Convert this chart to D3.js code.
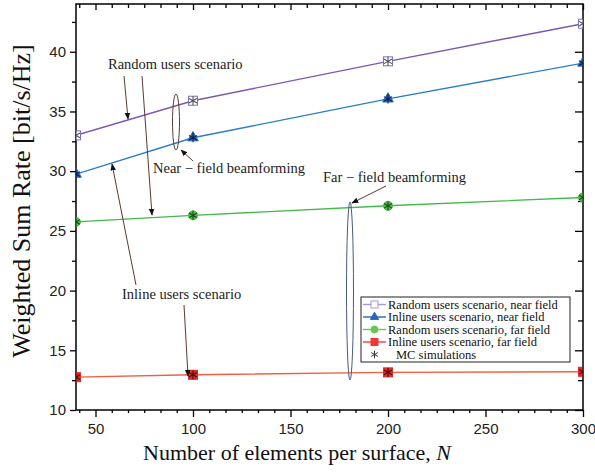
<!DOCTYPE html>
<html>
<head>
<meta charset="utf-8">
<script src="https://cdn.jsdelivr.net/npm/d3@7"></script>
<style>
  body { margin: 0; background: #fff; }
  svg { display: block; }
</style>
</head>
<body>
<svg width="595" height="472"></svg>
<script>
const elements = [40, 100, 200, 300];
const randomNear = [33.0, 35.9, 39.2, 42.35];
const inlineNear = [29.75, 32.8, 36.05, 39.05];
const randomFar = [25.75, 26.3, 27.1, 27.8];
const inlineFar = [12.75, 12.95, 13.15, 13.2];

const xTicks = [50, 100, 150, 200, 250, 300];
const yTicks = [10, 15, 20, 25, 30, 35, 40];

const series = [
    {name: "Random users scenario, near field", vals: randomNear, line: "#7d55b4", legendLine: "#a898d8", marker: "openSquare", fill: "#ffffff", stroke: "#8070c0", star: "#555"},
    {name: "Inline users scenario, near field", vals: inlineNear, line: "#2c7ccc", legendLine: "#2a64b8", marker: "triangle", fill: "#2a64b8", stroke: "#2a64b8", star: "#0b1f50"},
    {name: "Random users scenario, far field", vals: randomFar, line: "#44b84c", legendLine: "#66c855", marker: "circle", fill: "#4cbf44", stroke: "#4cbf44", star: "#1a4a1a"},
    {name: "Inline users scenario, far field", vals: inlineFar, line: "#f06040", legendLine: "#f03a3a", marker: "square", fill: "#e82828", stroke: "#e82828", star: "#401010"}
];

const svg = d3.select("svg");
const margin = {top: 4, right: 12, bottom: 62, left: 76};
const width = 595, height = 472;
const innerWidth = width - margin.left - margin.right;
const innerHeight = height - margin.top - margin.bottom;

const scaleX = d3.scaleLinear().domain([40, 300]).range([0, innerWidth]);
const scaleY = d3.scaleLinear().domain([10, 44]).range([innerHeight, 0]);

const g = svg.append("g").attr("transform", `translate(${margin.left}, ${margin.top})`);

const minorX = d3.range(0, 301, 50 / 6).filter(v => v >= 40 && v <= 300 && Math.abs(v % 50) > 0.1 && Math.abs(v % 50 - 50) > 0.1);
const minorY = d3.range(12.5, 44, 5);

// bottom axis
const axBottom = g.append("g").attr("transform", `translate(0, ${innerHeight})`);
axBottom.call(d3.axisBottom(scaleX).tickValues(xTicks).tickSize(7).tickSizeOuter(0).tickPadding(6));
axBottom.append("g").call(d3.axisBottom(scaleX).tickValues(minorX).tickSize(3).tickFormat(""));

// top axis
const axTop = g.append("g");
axTop.call(d3.axisBottom(scaleX).tickValues(xTicks).tickSize(6).tickFormat("").tickSizeOuter(0));
axTop.append("g").call(d3.axisBottom(scaleX).tickValues(minorX).tickSize(4).tickFormat(""));

// left axis
const axLeft = g.append("g");
axLeft.call(d3.axisLeft(scaleY).tickValues(yTicks).tickSize(6).tickSizeOuter(0).tickPadding(4));
axLeft.append("g").call(d3.axisLeft(scaleY).tickValues(minorY).tickSize(4).tickFormat(""));

// right axis
const axRight = g.append("g").attr("transform", `translate(${innerWidth}, 0)`);
axRight.call(d3.axisLeft(scaleY).tickValues(yTicks).tickSize(8).tickFormat("").tickSizeOuter(0));
axRight.append("g").call(d3.axisLeft(scaleY).tickValues(minorY).tickSize(5).tickFormat(""));

g.selectAll(".domain").remove();
g.selectAll(".tick text").filter(function() { return this.textContent === ""; }).remove();
g.selectAll(".tick line").attr("stroke", "#000").attr("stroke-width", 1.3);
g.selectAll(".tick text").style("font-family", "Liberation Sans, Arial, sans-serif").style("font-size", "15px").attr("fill", "#222");

g.append("rect").attr("width", innerWidth).attr("height", innerHeight)
    .attr("fill", "none").attr("stroke", "#000").attr("stroke-width", 1.5);

// lines and markers
const starPath = d3.symbol().type(d3.symbolAsterisk).size(60);
function drawMarker(sel, type, size, fill, stroke) {
    if (type === "openSquare" || type === "square") {
        sel.append("rect").attr("x", -size / 2).attr("y", -size / 2).attr("width", size).attr("height", size)
            .attr("fill", fill).attr("stroke", stroke).attr("stroke-width", 1);
    } else if (type === "triangle") {
        sel.append("path").attr("d", d3.symbol().type(d3.symbolTriangle).size(size * size * 0.6)())
            .attr("fill", fill).attr("stroke", stroke);
    } else {
        sel.append("circle").attr("r", size / 2).attr("fill", fill).attr("stroke", stroke);
    }
}

svg.append("clipPath").attr("id", "plotclip").append("rect")
    .attr("width", innerWidth).attr("height", innerHeight);
const plot = g.append("g").attr("clip-path", "url(#plotclip)");

series.forEach(s => {
    const line = d3.line().x((d, i) => scaleX(elements[i])).y(d => scaleY(d));
    plot.append("path").datum(s.vals).attr("fill", "none").attr("stroke", s.line)
        .attr("stroke-width", 1.4).attr("d", line);
});
series.forEach(s => {
    s.vals.forEach((v, i) => {
        const m = plot.append("g").attr("transform", `translate(${scaleX(elements[i])}, ${scaleY(v)})`);
        drawMarker(m, s.marker, 9, s.fill, s.stroke);
        m.append("path").attr("d", starPath()).attr("fill", "none").attr("stroke", s.star).attr("stroke-width", 1.1);
    });
});

// annotations
const serif = "Liberation Serif, Times New Roman, serif";
const ann = svg.append("g");
const defs = svg.append("defs");
defs.append("marker").attr("id", "arrow").attr("viewBox", "0 0 10 10").attr("refX", 9).attr("refY", 5)
    .attr("markerWidth", 7).attr("markerHeight", 7).attr("orient", "auto-start-reverse")
    .append("path").attr("d", "M0,1 L10,5 L0,9 z").attr("fill", "#111");

function arrow(x1, y1, x2, y2) {
    ann.append("line").attr("x1", x1).attr("y1", y1).attr("x2", x2).attr("y2", y2)
        .attr("stroke", "#5a3a30").attr("stroke-width", 1).attr("marker-end", "url(#arrow)");
}
function label(x, y, text, anchor) {
    ann.append("text").attr("x", x).attr("y", y).attr("text-anchor", anchor || "start")
        .style("font-family", serif).style("font-size", "14.5px").attr("fill", "#222").text(text);
}

label(108, 69, "Random users scenario");
arrow(124, 76, 128, 119);
arrow(142, 76, 152, 215);

ann.append("ellipse").attr("cx", 176).attr("cy", 122).attr("rx", 3.5).attr("ry", 28)
    .attr("fill", "none").attr("stroke", "#5a3a30").attr("stroke-width", 1);
label(153, 173, "Near \u2212 field beamforming");
arrow(193, 161, 181, 150);

ann.append("ellipse").attr("cx", 350).attr("cy", 291).attr("rx", 3.5).attr("ry", 89)
    .attr("fill", "none").attr("stroke", "#4a5a78").attr("stroke-width", 1);
label(323, 182, "Far \u2212 field beamforming");
arrow(386, 186, 352, 203);

label(122, 299, "Inline users scenario");
arrow(184, 305, 188, 376);
arrow(136, 285, 112, 164);

// legend
const legend = svg.append("g").attr("transform", "translate(361, 297)");
legend.append("rect").attr("width", 209).attr("height", 65).attr("fill", "#fff")
    .attr("stroke", "#222").attr("stroke-width", 1);
series.forEach((s, i) => {
    const row = legend.append("g").attr("transform", `translate(0, ${7.5 + i * 12.5})`);
    row.append("line").attr("x1", 2).attr("x2", 25).attr("stroke", s.legendLine).attr("stroke-width", 1.4);
    const m = row.append("g").attr("transform", "translate(13.5, 0)");
    drawMarker(m, s.marker, 7, s.marker === "openSquare" ? "#fff" : s.legendLine, s.legendLine);
    row.append("text").attr("x", 27).attr("y", 4).style("font-family", serif).style("font-size", "12.5px")
        .attr("fill", "#111").text(s.name);
});
const mcRow = legend.append("g").attr("transform", `translate(0, ${7.5 + 4 * 12.5})`);
mcRow.append("path").attr("transform", "translate(13.5, 0)").attr("d", d3.symbol().type(d3.symbolAsterisk).size(40)())
    .attr("fill", "none").attr("stroke", "#333");
mcRow.append("text").attr("x", 35).attr("y", 4).style("font-family", serif).style("font-size", "12.5px")
    .attr("fill", "#111").text("MC simulations");

// axis titles
const xTitle = svg.append("text").attr("x", 297).attr("y", 460).attr("text-anchor", "middle")
    .style("font-family", serif).style("font-size", "22px").attr("fill", "#111");
xTitle.append("tspan").text("Number of elements per surface, ");
xTitle.append("tspan").style("font-style", "italic").text("N");

svg.append("text").attr("transform", "translate(30, 201) rotate(-90)").attr("text-anchor", "middle")
    .style("font-family", serif).style("font-size", "26px").attr("fill", "#111")
    .text("Weighted Sum Rate [bit/s/Hz]");
</script>
</body>
</html>
